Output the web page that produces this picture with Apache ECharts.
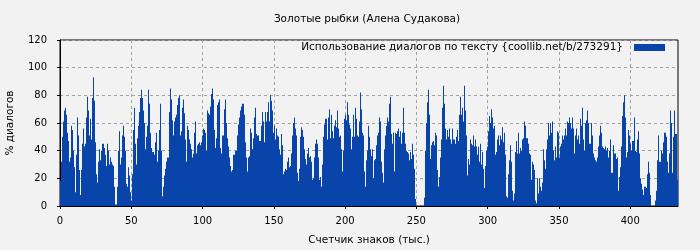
<!DOCTYPE html>
<html>
<head>
<meta charset="utf-8">
<script src="https://cdn.jsdelivr.net/npm/echarts@6/dist/echarts.min.js"></script>
<style>
html,body{margin:0;padding:0;background:#f2f2f2;}
#chart{width:700px;height:250px;}
</style>
</head>
<body>
<div id="chart"></div>
<script>
// Chart text
const titleText = 'Золотые рыбки (Алена Судакова)';
const seriesName = 'Использование диалогов по тексту {coollib.net/b/273291}';
const xAxisName = 'Счетчик знаков (тыс.)';
const yAxisName = '% диалогов';

// Tick values
const xTicks = [0, 50, 100, 150, 200, 250, 300, 350, 400];
const yTicks = [0, 20, 40, 60, 80, 100, 120];
const xMaxK = 433.5;           // axis end, thousands of characters

// Dialogue usage (%) per bar, in order of text position
const seg1 = [18,32,50,61,69,71,66,53,47,32,35,58,55,40,28,10,37,64,51,26,8,26,45,56,43,45,64,79,69,51,
  63,48,78,93,76,46,23,17,32,41,33,40,45,45,42,37,29,45,40,30,35,32,30,29,14,1,1];
const seg2 = [14,40,54,30,35,51,58,50,40,16,14,28,22,10,4,23,55,71,45,30,49,58,68,78,84,78,69,60,41,50,
  58,84,74,53,42,39,39,37,46,53,32,40,55];
const seg3 = [74,40,7,14,22,27,32,35,35,68,85,77,62,51,61,64,66,73,78,80,51,54,71,77,67,48,32,58,55,48,
  45,41,35,38,53,61,38,44,45,46,44,46,51,56,55,53,40,69,67,66,72,81,85,77,55,42,49,73,75,77,
  42,38,51,51,70,77,60,49,43,35,29,25,26,37,37,40,40,51,59,64,69,72,74,74,66,46,35,25,35,36,
  56,53,41,49,64,71,52,51,51,47,47,58,68,61,46,68,61,68,75,61];
const seg4 = [80,76,69,53,58,48,56,51,50,41,37,52,44,23,25,27,26,32,35,28,29,38,51,60,64,56,51,24,18,27,
  50,57,55,50,41,34,30,38,42,35,36,32,19,20,35,45,48,45,35,19,21,14,30,50,59,63,63,48,64,70,
  49,66,54,49,58,62,57,69,56,50,51,41,25,40,63,66,62,75,66,59,56,41,50,66,50,71,63,51,50,61,
  82,70,53,51,25,14,33,40,58,50,41,36,41,20,33];
const seg5 = [34,44,51,53,64,61,32,24,17,41,51,58,64,61,74,79,52,45,53,25,53,52,54,56,50,54,45,53,71,53,
  45,40,39,38,33,39,34,45,37,27,5,0,0,0,0,0,0,0,0,6,40,60,75,84,66,34,44,46,47,44,
  53,51,26,14,21,35,48,71,87,74,56,48,55,50,56,48,45,56,48,48,45,50,55,47,66,79,66,71,61,87,
  69,51,22,34,30,48,45,44,51,43,48,43,37,43,32];
const seg6 = [45,30,39,27,13,29,40,43,54,65,60,70,64,56,58,37,39,48,51,44,51,48,57,46,53,37,7,6,23,33,
  44,32,11,4,9,39,47,38,53,38,42,40,48,49,61,58,49,49,45,38,37,19,32,30,26,4,2,20,9,20,
  14,11,17,41,33,27,41,48,60,51,60,53,61,40,33,43,35,54,53,35,43,45,51,48,51,56,51,61,60,64,
  60,56,64,56,38,51,56,48,51,45,63,58,71,48,40];
const seg7 = [60,62,69,60,45,45,60,51,38,35,33,32,35,43,51,58,53,43,42,41,43,40,42,35,40,48,24,24,44,38,
  38,34,35,11,21,28,43,65,75,80,64,35,39,55,51,45,40,47,47,64,40,39,48,54,38,20,16,12,8,14,
  14,13,23,32,24,8,0,0,0,0,4,11,33,51,32,32,40,38,46,53,53,50,32,24,38,69,60,24,50,69,
  52,52,19];

const values = [].concat(seg1, seg2, seg3, seg4, seg5, seg6, seg7);
const stepK = xMaxK / values.length;
const categories = values.map((v, i) => ((i + 0.5) * stepK).toFixed(2));

const FONT = 'DejaVu Sans';
const chart = echarts.init(document.getElementById('chart'), null, {renderer: 'canvas'});
chart.setOption({
  backgroundColor: '#f2f2f2',
  animation: false,
  textStyle: {fontFamily: FONT},
  title: {
    text: titleText,
    left: 362, top: 9, textAlign: 'center',
    textStyle: {fontFamily: FONT, fontSize: 10.5, fontWeight: 'normal', color: '#000'}
  },
  legend: {
    show: true,
    data: [{name: seriesName, icon: 'rect'}],
    right: 35, top: 42, padding: 0,
    align: 'right',
    itemWidth: 31, itemHeight: 7,
    itemStyle: {borderWidth: 0},
    textStyle: {fontFamily: FONT, fontSize: 10.5, color: '#000', padding: [0, 6, 0, 0]}
  },
  grid: {
    left: 60, top: 40, right: 22, bottom: 44,
    show: true, borderColor: '#000', borderWidth: 1, backgroundColor: 'transparent',
    containLabel: false, outerBoundsMode: 'none'
  },
  xAxis: [
    {
      type: 'category', data: categories, boundaryGap: true,
      axisLine: {show: false}, axisTick: {show: false}, axisLabel: {show: false}, splitLine: {show: false}
    },
    {
      type: 'value', position: 'bottom', min: 0, max: xMaxK, interval: 50,
      name: xAxisName, nameLocation: 'middle', nameGap: 29,
      nameTextStyle: {fontFamily: FONT, fontSize: 10.5, color: '#000'},
      axisLine: {show: true, lineStyle: {color: '#000', width: 1}},
      axisTick: {show: true, length: 3, lineStyle: {color: '#000'}, customValues: xTicks},
      axisLabel: {fontFamily: FONT, fontSize: 10, color: '#000', margin: 10, customValues: xTicks},
      splitLine: {show: true, lineStyle: {color: '#a0a0a0', type: [3, 3], width: 1}}
    }
  ],
  yAxis: {
    type: 'value', min: 0, max: 120, interval: 20,
    name: yAxisName, nameLocation: 'middle', nameRotate: 90, nameGap: 44,
    nameTextStyle: {fontFamily: FONT, fontSize: 10.5, color: '#000'},
    axisLine: {show: true, lineStyle: {color: '#000', width: 1}},
    axisTick: {show: true, length: 3, lineStyle: {color: '#000'}},
    axisLabel: {fontFamily: FONT, fontSize: 10, color: '#000', margin: 13, customValues: yTicks},
    splitLine: {show: true, lineStyle: {color: '#a0a0a0', type: [3, 3], width: 1}}
  },
  series: [{
    name: seriesName,
    type: 'bar',
    xAxisIndex: 0,
    data: values,
    barCategoryGap: '0%',
    barGap: '0%',
    itemStyle: {color: '#0844aa'},
    large: false
  }]
});
</script>
</body>
</html>
